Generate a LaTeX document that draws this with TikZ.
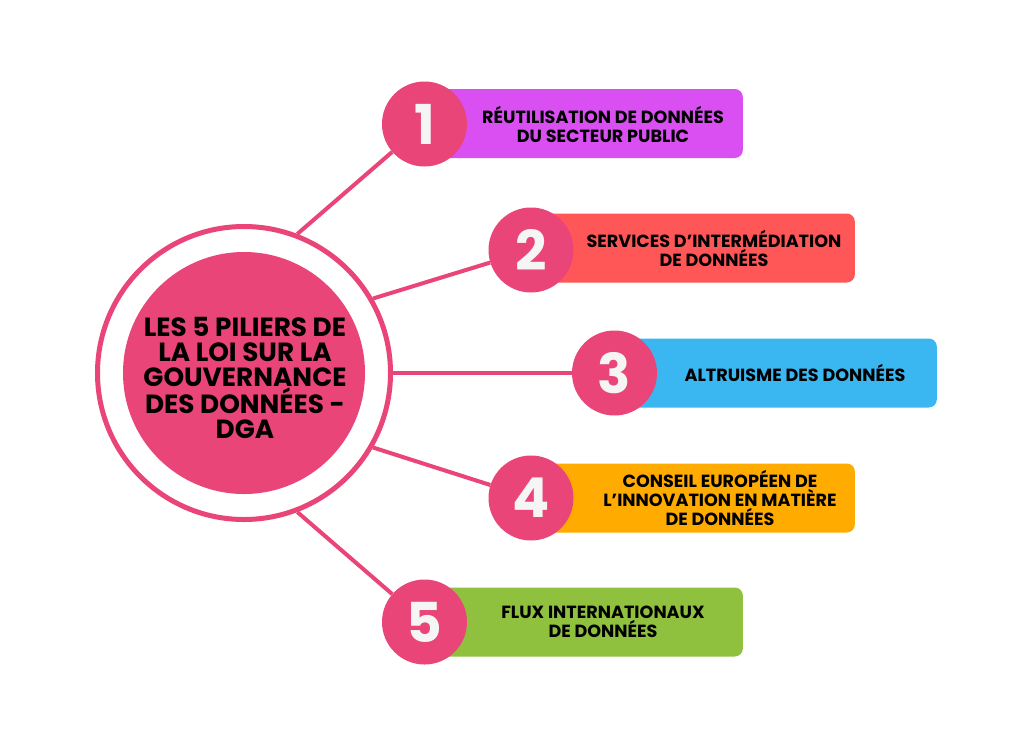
\documentclass[tikz,border=0pt]{standalone}
\usepackage{fontspec}
\setmainfont{Poppins}
\newfontfamily\numfont{Poppins}
\definecolor{pinkc}{HTML}{E94579}
\definecolor{cpurple}{HTML}{D94FF2}
\definecolor{ccoral}{HTML}{FF5757}
\definecolor{cblue}{HTML}{3AB6F0}
\definecolor{corange}{HTML}{FFAB00}
\definecolor{cgreen}{HTML}{8FC13E}
\tikzset{
  bar/.style={rounded corners=8pt, minimum height=69pt, inner sep=0pt, anchor=east},
  numc/.style={circle, fill=pinkc, minimum size=85pt, inner sep=0pt, text=white!96!black,
     font=\numfont\bfseries\fontsize{55}{55}\selectfont},
  lbl/.style={align=center, inner sep=0pt, font=\bfseries\fontsize{17.6}{19}\selectfont},
  conn/.style={draw=pinkc, line width=4pt},
}
\begin{document}
\begin{tikzpicture}[x=1pt,y=-1pt]
\useasboundingbox[fill=white] (0,0) rectangle (1024,742);
% central circles
\node[circle, draw=pinkc, line width=5pt, minimum size=293pt, inner sep=0pt] (ring) at (244,373) {};
\node[circle, fill=pinkc, minimum size=242pt, inner sep=0pt] (core) at (244,373) {};
\node[align=center, inner sep=0pt, font=\bfseries\fontsize{26.3}{25.2}\selectfont] (title) at (245,378)
  {LES 5 PILIERS DE\\LA LOI SUR LA\\GOUVERNANCE\\DES DONNÉES -\\DGA};
% bars
\node[bar, fill=cpurple, minimum width=319pt] (b1) at (743,123.5) {};
\node[bar, fill=ccoral, minimum width=324pt] (b2) at (855,248) {};
\node[bar, fill=cblue, minimum width=323pt] (b3) at (937,373) {};
\node[bar, fill=corange, minimum width=324pt] (b4) at (855,498) {};
\node[bar, fill=cgreen, minimum width=319pt] (b5) at (743,622) {};
% number circles
\node[numc] (n1) at (424.5,124) {1};
\node[numc] (n2) at (531,250) {2};
\node[numc] (n3) at (614.5,373) {3};
\node[numc] (n4) at (531,498) {4};
\node[numc] (n5) at (424.5,622) {5};
% connectors
\draw[conn] (ring.69) -- (n1);
\draw[conn] (ring.30) -- (n2);
\draw[conn] (ring.0) -- (n3);
\draw[conn] (ring.-30) -- (n4);
\draw[conn] (ring.-69) -- (n5);
% labels
\node[lbl] (t1) at (603,124) {RÉUTILISATION DE DONNÉES\\DU SECTEUR PUBLIC};
\node[lbl] (t2) at (714,248) {SERVICES D’INTERMÉDIATION\\DE DONNÉES};
\node[lbl] (t3) at (795,373) {ALTRUISME DES DONNÉES};
\node[lbl] (t4) at (720,498) {CONSEIL EUROPÉEN DE\\L’INNOVATION EN MATIÈRE\\DE DONNÉES};
\node[lbl] (t5) at (603,622) {FLUX INTERNATIONAUX\\DE DONNÉES};
\end{tikzpicture}
\end{document}
